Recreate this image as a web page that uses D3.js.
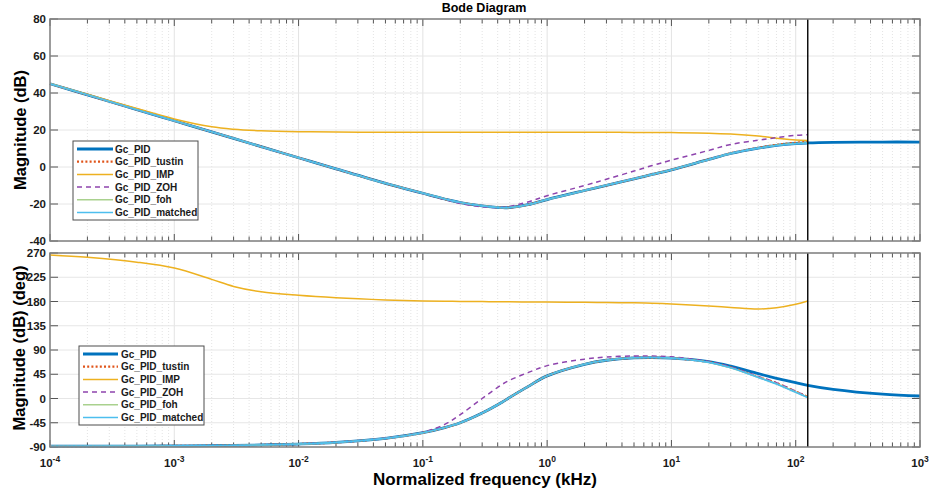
<!DOCTYPE html>
<html>
<head>
<meta charset="utf-8">
<script src="https://cdn.jsdelivr.net/npm/d3@7"></script>
<style>
  html, body { margin: 0; padding: 0; background: #fff; }
  svg { display: block; font-family: "Liberation Sans", Arial, sans-serif; }
</style>
</head>
<body>
<svg id="chart" width="932" height="495"></svg>
<script>
// Sample frequencies (kHz): discrete models stop at the Nyquist frequency (125 kHz)
const freqD = [1e-4, 2e-4, 5e-4, 1e-3, 2e-3, 3e-3, 5e-3, 1e-2, 2e-2, 5e-2,
               0.1, 0.15, 0.2, 0.3, 0.44, 0.5, 0.7, 1, 2, 3, 5, 7, 10,
               20, 30, 50, 70, 100, 125];
const freqC = freqD.concat([200, 500, 1000]);
const nyquist = 125;

// Magnitude (dB)
const magPID     = [45, 39, 31, 25, 19, 15.5, 11, 5, -1, -8.8,
                    -14.2, -17.3, -19.2, -21, -22, -21.9, -20.4, -17.6, -12.7, -9.9, -6.4, -4, -1.5,
                    4.1, 7.3, 10.2, 11.7, 12.7, 13, 13.3, 13.5, 13.5];
const magTustin  = [45, 39, 31, 25, 19, 15.5, 11, 5, -1, -8.8,
                    -14.2, -17.3, -19.2, -21, -22, -21.9, -20.4, -17.6, -12.7, -9.9, -6.4, -4, -1.5,
                    4.1, 7.4, 10.4, 12, 13.1, 13.5];
const magIMP     = [45.1, 39.3, 31.6, 26, 21.7, 20.4, 19.6, 19.1, 18.9, 18.8,
                    18.8, 18.8, 18.8, 18.8, 18.8, 18.8, 18.8, 18.8, 18.8, 18.8, 18.7, 18.7, 18.6,
                    18.3, 17.8, 16.7, 15.6, 14.6, 14.3];
const magZOH     = [45, 39, 31, 25, 19, 15.5, 11, 5, -1, -8.8,
                    -14.3, -17.6, -19.7, -21.5, -21.9, -21.3, -18.9, -15.5, -10, -6.6, -2.2, 0.8, 3.7,
                    9, 12.2, 14.5, 15.9, 17.1, 17.5];
const magFOH     = [45, 39, 31, 25, 19, 15.5, 11, 5, -1, -8.8,
                    -14.2, -17.3, -19.2, -21, -22, -21.9, -20.4, -17.6, -12.7, -9.9, -6.4, -4, -1.5,
                    4.1, 7.3, 10.2, 11.7, 12.7, 13];
const magMatched = [45, 39, 31, 25, 19, 15.5, 11, 5, -1, -8.8,
                    -14.2, -17.3, -19.2, -21, -22, -21.9, -20.4, -17.6, -12.7, -9.9, -6.4, -4, -1.5,
                    4.1, 7.3, 10.2, 11.6, 12.6, 12.9];

// Phase (deg)
const phPID      = [-88.5, -88.4, -88.2, -88, -87.5, -87, -86.2, -84.5, -81.5, -74,
                    -63.5, -54, -45, -27, -6, 2, 22, 42, 63.5, 71, 75.5, 76, 75,
                    68.5, 60, 46, 37.5, 29.5, 24.5, 17, 8, 4.6];
const phTustin   = [-88.5, -88.4, -88.2, -88, -87.5, -87, -86.2, -84.5, -81.5, -74,
                    -63.5, -54, -45, -27, -6, 2, 22, 42, 63.5, 71, 75.5, 76, 75,
                    67.5, 57.8, 40, 28.5, 13, 3];
const phIMP      = [266.5, 262, 253, 242, 221, 208, 198, 191.5, 187, 183,
                    181, 180.5, 180, 179.8, 179.5, 179.5, 179.2, 179, 178.5, 178, 177.5, 176.8, 175.5,
                    171.6, 169, 166, 168.5, 175, 181];
const phZOH      = [-88.5, -88.4, -88.2, -88, -87.5, -87, -86.2, -84.5, -81.5, -73.5,
                    -62.5, -48, -30, 0, 27, 34, 48, 61, 73, 77, 79, 78.8, 77.3,
                    68.5, 58.5, 41, 29.5, 13.5, 3];
const phFOH      = [-88.5, -88.4, -88.2, -88, -87.5, -87, -86.2, -84.5, -81.5, -74,
                    -63.5, -54, -45, -27, -6, 2, 22, 42, 63.5, 71, 75.5, 76, 75,
                    67, 57, 39.5, 27.5, 12, 2];
const phMatched  = [-88.5, -88.4, -88.2, -88, -87.5, -87, -86.2, -84.5, -81.5, -74,
                    -63.5, -54, -45, -27, -6, 2, 22, 42, 63.5, 71, 75.5, 76, 75,
                    67, 57, 39, 27, 11.5, 2];

// Axis ticks
const xDecades   = [-4, -3, -2, -1, 0, 1, 2, 3];
const magTicks   = [-40, -20, 0, 20, 40, 60, 80];
const phaseTicks = [-90, -45, 0, 45, 90, 135, 180, 225, 270];

const seriesNames = ["Gc_PID", "Gc_PID_tustin", "Gc_PID_IMP", "Gc_PID_ZOH", "Gc_PID_foh", "Gc_PID_matched"];

// Line styles per series (same order as seriesNames)
const styles = [
  { color: "#0072BD", width: 2.8, dash: null },
  { color: "#E0541A", width: 2.2, dash: "2,2.2" },
  { color: "#EDB120", width: 1.5, dash: null },
  { color: "#8E44AD", width: 1.5, dash: "5,4" },
  { color: "#A9D18E", width: 1.5, dash: null },
  { color: "#4DBEEE", width: 1.6, dash: null }
];

const magSeries = [
  { f: freqC, v: magPID }, { f: freqD, v: magTustin }, { f: freqD, v: magIMP },
  { f: freqD, v: magZOH }, { f: freqD, v: magFOH },    { f: freqD, v: magMatched }
];
const phSeries = [
  { f: freqC, v: phPID }, { f: freqD, v: phTustin }, { f: freqD, v: phIMP },
  { f: freqD, v: phZOH }, { f: freqD, v: phFOH },    { f: freqD, v: phMatched }
];

const svg = d3.select("#chart");
const left = 50, right = 920;

const x = d3.scaleLog().domain([1e-4, 1e3]).range([left, right]);

const panels = [
  { top: 19,  bottom: 241, domain: [-40, 80],  ticks: magTicks,   data: magSeries, legend: { x: 73, y: 141, w: 125, h: 79, lineX0: 77, lineX1: 113, textX: 115, row0: 149 } },
  { top: 253, bottom: 447, domain: [-90, 270], ticks: phaseTicks, data: phSeries,  legend: { x: 79, y: 346, w: 125, h: 79, lineX0: 83, lineX1: 118, textX: 121, row0: 354 } }
];

const minorTicks = [];
xDecades.slice(0, -1).forEach(d => {
  for (let k = 2; k <= 9; k++) minorTicks.push(k * Math.pow(10, d));
});
const majorTicks = xDecades.map(d => Math.pow(10, d));

panels.forEach(p => {
  const y = d3.scaleLinear().domain(p.domain).range([p.bottom, p.top]);
  const g = svg.append("g");

  // minor vertical grid (dotted)
  g.append("g").selectAll("line").data(minorTicks).join("line")
    .attr("x1", d => x(d)).attr("x2", d => x(d))
    .attr("y1", p.top).attr("y2", p.bottom)
    .attr("stroke", "#dcdcdc").attr("stroke-width", 0.8).attr("stroke-dasharray", "1,2");

  // major grid
  g.append("g").selectAll("line").data(majorTicks).join("line")
    .attr("x1", d => x(d)).attr("x2", d => x(d))
    .attr("y1", p.top).attr("y2", p.bottom)
    .attr("stroke", "#e3e3e3").attr("stroke-width", 1);
  g.append("g").selectAll("line").data(p.ticks).join("line")
    .attr("x1", left).attr("x2", right)
    .attr("y1", d => y(d)).attr("y2", d => y(d))
    .attr("stroke", "#e6e6e6").attr("stroke-width", 1);

  // tick marks on all four sides (inward)
  const tickG = g.append("g").attr("stroke", "#555").attr("stroke-width", 1);
  [[majorTicks, 7], [minorTicks, 4.5]].forEach(([arr, len]) => {
    tickG.append("g").selectAll("line").data(arr).join("line")
      .attr("x1", d => x(d)).attr("x2", d => x(d)).attr("y1", p.bottom).attr("y2", p.bottom - len);
    tickG.append("g").selectAll("line").data(arr).join("line")
      .attr("x1", d => x(d)).attr("x2", d => x(d)).attr("y1", p.top).attr("y2", p.top + len);
  });
  tickG.append("g").selectAll("line").data(p.ticks).join("line")
    .attr("x1", left).attr("x2", left + 8).attr("y1", d => y(d)).attr("y2", d => y(d));
  tickG.append("g").selectAll("line").data(p.ticks).join("line")
    .attr("x1", right).attr("x2", right - 8).attr("y1", d => y(d)).attr("y2", d => y(d));

  // y tick labels
  g.append("g").selectAll("text").data(p.ticks).join("text")
    .attr("x", left - 4).attr("y", d => y(d)).attr("dy", "0.35em")
    .attr("text-anchor", "end").attr("font-size", 11.5).attr("font-weight", "bold")
    .attr("fill", "#1a1a1a")
    .text(d => d);

  // response curves
  const line = d3.line()
    .x(d => x(d[0])).y(d => y(d[1]))
    .curve(d3.curveCatmullRom.alpha(0.5));
  const curves = g.append("g");
  p.data.forEach((s, i) => {
    const st = styles[i];
    curves.append("path")
      .datum(s.f.map((f, j) => [f, s.v[j]]))
      .attr("d", line)
      .attr("fill", "none")
      .attr("stroke", st.color)
      .attr("stroke-width", st.width)
      .attr("stroke-dasharray", st.dash)
      .attr("stroke-linejoin", "round");
  });

  // Nyquist marker
  g.append("line")
    .attr("x1", x(nyquist)).attr("x2", x(nyquist))
    .attr("y1", p.top).attr("y2", p.bottom)
    .attr("stroke", "#000").attr("stroke-width", 1.4);

  // axes box
  g.append("rect")
    .attr("x", left).attr("y", p.top)
    .attr("width", right - left).attr("height", p.bottom - p.top)
    .attr("fill", "none").attr("stroke", "#808080").attr("stroke-width", 1.5);

  // legend
  const L = p.legend;
  const lg = g.append("g");
  lg.append("rect").attr("x", L.x).attr("y", L.y).attr("width", L.w).attr("height", L.h)
    .attr("fill", "#fff").attr("stroke", "#4d4d4d").attr("stroke-width", 1);
  seriesNames.forEach((name, i) => {
    const yy = L.row0 + i * 12.7;
    const st = styles[i];
    lg.append("line")
      .attr("x1", L.lineX0).attr("x2", L.lineX1).attr("y1", yy).attr("y2", yy)
      .attr("stroke", st.color).attr("stroke-width", st.width)
      .attr("stroke-dasharray", st.dash);
    lg.append("text")
      .attr("x", L.textX).attr("y", yy).attr("dy", "0.35em")
      .attr("font-size", 10).attr("font-weight", "bold").attr("fill", "#1a1a1a")
      .text(name);
  });
});

// x tick labels (bottom panel only) as powers of ten
const xl = svg.append("g");
xDecades.forEach(d => {
  const t = xl.append("text")
    .attr("x", x(Math.pow(10, d))).attr("y", 467)
    .attr("text-anchor", "middle").attr("font-size", 11.5).attr("font-weight", "bold")
    .attr("fill", "#1a1a1a");
  t.append("tspan").text("10");
  t.append("tspan").attr("dy", -5).attr("font-size", 8.5).text(d);
});

// titles and axis labels
svg.append("text").attr("x", 484).attr("y", 12)
  .attr("text-anchor", "middle").attr("font-size", 12.5).attr("font-weight", "bold")
  .text("Bode Diagram");

svg.append("text").attr("transform", "translate(26,130) rotate(-90)")
  .attr("text-anchor", "middle").attr("font-size", 16.5).attr("font-weight", "bold")
  .text("Magnitude (dB)");

svg.append("text").attr("transform", "translate(25,348) rotate(-90)")
  .attr("text-anchor", "middle").attr("font-size", 16.5).attr("font-weight", "bold")
  .text("Magnitude (dB) (deg)");

svg.append("text").attr("x", 485).attr("y", 485)
  .attr("text-anchor", "middle").attr("font-size", 17).attr("font-weight", "bold")
  .text("Normalized frequency  (kHz)");
</script>
</body>
</html>
